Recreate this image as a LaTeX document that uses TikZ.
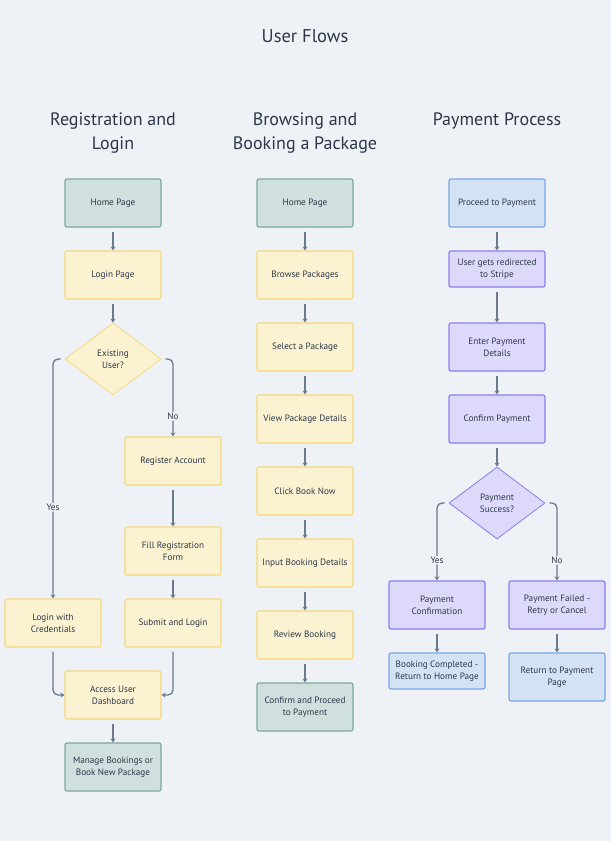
\documentclass[tikz,border=0pt]{standalone}
\usepackage{fontspec}
\setmainfont{PT Sans}
\usetikzlibrary{arrows.meta,shapes.geometric}
\definecolor{bgc}{HTML}{EEF1F6}
\definecolor{txt}{HTML}{2D3748}
\definecolor{edgec}{HTML}{6B7A8F}
\definecolor{grnfill}{HTML}{D0E0DF}
\definecolor{grnline}{HTML}{7BA99E}
\definecolor{ylwfill}{HTML}{FBF2D2}
\definecolor{ylwline}{HTML}{F5D97A}
\definecolor{blufill}{HTML}{D3E3F5}
\definecolor{bluline}{HTML}{7AA7E0}
\definecolor{prpfill}{HTML}{DCD9FA}
\definecolor{prpline}{HTML}{8C7EF0}
\tikzset{
  box/.style={rectangle, rounded corners=2pt, line width=1.2pt, minimum width=96pt,
    minimum height=48pt, align=center, text=txt, font=\fontsize{9.2}{12}\selectfont},
  greenbox/.style={box, draw=grnline, fill=grnfill},
  yellowbox/.style={box, draw=ylwline, fill=ylwfill},
  bluebox/.style={box, draw=bluline, fill=blufill},
  purplebox/.style={box, draw=prpline, fill=prpfill},
  decision/.style={diamond, aspect=1.33, inner sep=0pt, minimum width=96pt, minimum height=72pt,
    line width=0.8pt, align=center, text=txt, font=\fontsize{9.2}{12}\selectfont},
  flow/.style={draw=edgec, line width=1.3pt, rounded corners=5pt,
    -{Stealth[length=4pt,width=5pt]}, shorten <=4pt},
  lbl/.style={fill=bgc, text=txt, inner sep=1pt, font=\fontsize{9.2}{11}\selectfont},
  heading/.style={align=center, text=txt, font=\fontsize{18}{24}\selectfont}
}
\begin{document}
\begin{tikzpicture}[x=1pt, y=-1pt]
  \fill[bgc] (0,0) rectangle (611,841);
  \useasboundingbox (0,0) rectangle (611,841);

  % titles
  \node[heading, font=\fontsize{18.5}{24}\selectfont] (title) at (305,36) {User Flows};
  \node[heading] (regtitle) at (113,133) {Registration and\\Login};
  \node[heading] (brwtitle) at (305,133) {Browsing and\\Booking a Package};
  \node[heading] (paytitle) at (497,121) {Payment Process};

  % registration and login
  \node[greenbox]  (rhome)    at (113,203) {Home Page};
  \node[yellowbox] (rlogin)   at (113,275) {Login Page};
  \node[decision, draw=ylwline, fill=ylwfill] (rexist) at (113,359) {Existing\\User?};
  \node[yellowbox] (rregister) at (173,461) {Register Account};
  \node[yellowbox] (rfill)    at (173,551) {Fill Registration\\Form};
  \node[yellowbox] (rsubmit)  at (173,623) {Submit and Login};
  \node[yellowbox] (rcred)    at (53,623) {Login with\\Credentials};
  \node[yellowbox] (rdash)    at (113,695) {Access User\\Dashboard};
  \node[greenbox]  (rmanage)  at (113,767) {Manage Bookings or\\Book New Package};

  \draw[flow] (rhome) -- (rlogin);
  \draw[flow] (rlogin) -- (rexist);
  \draw[flow] (rexist.west) -| node[lbl, pos=0.81] {Yes} (rcred.north);
  \draw[flow] (rexist.east) -| node[lbl, pos=0.87] {No} (rregister.north);
  \draw[flow] (rregister) -- (rfill);
  \draw[flow] (rfill) -- (rsubmit);
  \draw[flow] (rcred.south) |- (rdash.west);
  \draw[flow] (rsubmit.south) |- (rdash.east);
  \draw[flow] (rdash) -- (rmanage);

  % browsing and booking
  \node[greenbox]  (bhome)    at (305,203) {Home Page};
  \node[yellowbox] (bbrowse)  at (305,275) {Browse Packages};
  \node[yellowbox] (bselect)  at (305,347) {Select a Package};
  \node[yellowbox] (bview)    at (305,419) {View Package Details};
  \node[yellowbox] (bclick)   at (305,491) {Click Book Now};
  \node[yellowbox] (binput)   at (305,563) {Input Booking Details};
  \node[yellowbox] (breview)  at (305,635) {Review Booking};
  \node[greenbox]  (bconfirm) at (305,707) {Confirm and Proceed\\to Payment};

  \draw[flow] (bhome) -- (bbrowse);
  \draw[flow] (bbrowse) -- (bselect);
  \draw[flow] (bselect) -- (bview);
  \draw[flow] (bview) -- (bclick);
  \draw[flow] (bclick) -- (binput);
  \draw[flow] (binput) -- (breview);
  \draw[flow] (breview) -- (bconfirm);

  % payment process
  \node[bluebox]   (pproceed)  at (497,203) {Proceed to Payment};
  \node[purplebox, minimum height=36pt] (pstripe) at (497,269) {User gets redirected\\to Stripe};
  \node[purplebox] (penter)    at (497,347) {Enter Payment\\Details};
  \node[purplebox] (pconfirm)  at (497,419) {Confirm Payment};
  \node[decision, draw=prpline, fill=prpfill] (psuccess) at (497,503) {Payment\\Success?};
  \node[purplebox] (pconfirmation) at (437,605) {Payment\\Confirmation};
  \node[purplebox] (pfailed)   at (557,605) {Payment Failed -\\Retry or Cancel};
  \node[bluebox, minimum height=36pt] (pdone) at (437,671) {Booking Completed -\\Return to Home Page};
  \node[bluebox]   (preturn)   at (557,677) {Return to Payment\\Page};

  \draw[flow] (pproceed) -- (pstripe);
  \draw[flow] (pstripe) -- (penter);
  \draw[flow] (penter) -- (pconfirm);
  \draw[flow] (pconfirm) -- (psuccess);
  \draw[flow] (psuccess.west) -| node[lbl, pos=0.87] {Yes} (pconfirmation.north);
  \draw[flow] (psuccess.east) -| node[lbl, pos=0.87] {No} (pfailed.north);
  \draw[flow] (pconfirmation) -- (pdone);
  \draw[flow] (pfailed) -- (preturn);
\end{tikzpicture}
\end{document}
